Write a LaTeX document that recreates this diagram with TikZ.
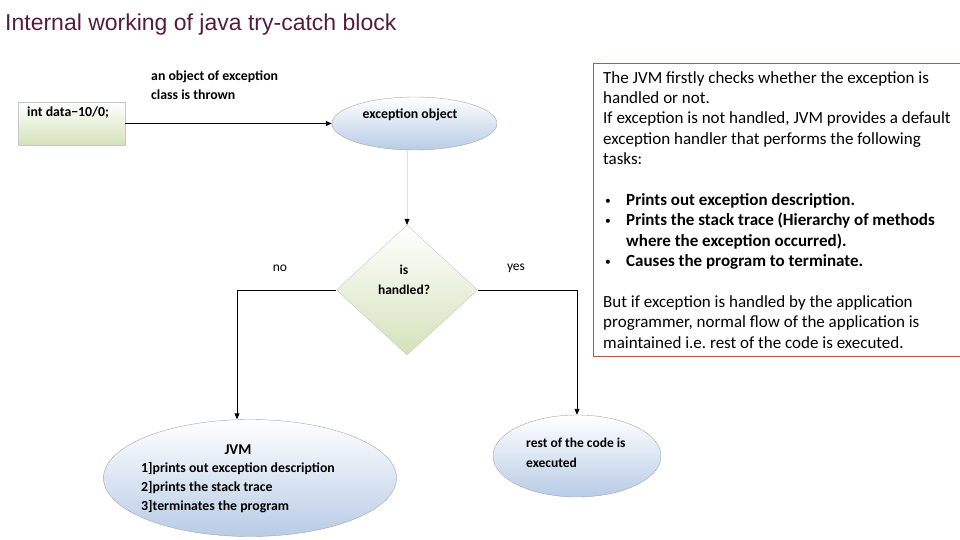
\documentclass[tikz,border=0pt]{standalone}
\usepackage{fontspec}
\setmainfont{Carlito}
\newfontfamily\titlefont{Liberation Sans}
\usetikzlibrary{shapes.geometric,arrows.meta}
\definecolor{titleplum}{RGB}{83,30,62}
\definecolor{noteborder}{RGB}{192,80,77}
\definecolor{leafgreen}{RGB}{212,226,186}
\definecolor{skyblue}{RGB}{184,204,230}
\newcommand{\notebullet}{\makebox[23pt][l]{\hspace{2pt}\raisebox{1.2pt}{\fontsize{11.5}{11.5}\selectfont\textbullet}}}

\begin{document}
\begin{tikzpicture}[x=1pt,y=-1pt,
  flowarrow/.style={line width=0.9pt, black, -{Triangle[length=6pt,width=5pt]}},
  fadedarrow/.style={line width=0.6pt, black!12, -{Triangle[length=6pt,width=5pt,color=black]}},
  greenbox/.style={draw=black!22, top color=white, bottom color=leafgreen, inner sep=0pt},
  blueoval/.style={ellipse, draw=black!35, top color=white, bottom color=skyblue, inner sep=0pt},
  smalltext/.style={inner sep=0pt, font=\bfseries\fontsize{13.8}{19}\selectfont},
]
\useasboundingbox (0,0) rectangle (960,540);
\node[anchor=base west, inner sep=0pt, text=titleplum] (title) at (5,31)
  {\titlefont\fontsize{23}{27}\selectfont Internal working of java try-catch block};

% the flow chart
\node[greenbox, minimum width=107pt, minimum height=43pt] (codebox) at (71.5,123.5) {};
\node[smalltext, anchor=west] (codetext) at (27,113) {int data−10/0;};
\node[blueoval, minimum width=165pt, minimum height=53pt] (thrown) at (414.5,123.5) {};
\node[smalltext] (throwntext) at (410,115) {exception object};
\node[diamond, greenbox, minimum width=141pt, minimum height=130pt] (test) at (407,290) {};
\node[smalltext, align=center, font=\bfseries\fontsize{13.5}{20}\selectfont] (testtext) at (404,280) {is\\handled?};
\node[blueoval, minimum width=293pt, minimum height=117pt] (jvm) at (250,478) {};
\node[smalltext] (jvmhead) at (238,450) {\fontsize{15}{18}\selectfont JVM};
\node[smalltext, anchor=north west, align=left] (jvmtext) at (141,462)
  {1]prints out exception description\\2]prints the stack trace\\3]terminates the program};
\node[blueoval, minimum width=168pt, minimum height=82pt] (rest) at (577,456) {};
\node[smalltext, anchor=north west, align=left, font=\bfseries\fontsize{13.5}{20}\selectfont] (resttext) at (526,438)
  {rest of the code is\\executed};

\node[smalltext, anchor=north west, align=left] (throwlabel) at (151,71)
  {an object of exception\\class is thrown};
\node[inner sep=0pt, font=\fontsize{13.5}{15}\selectfont] (nolabel) at (280,268) {no};
\node[inner sep=0pt, font=\fontsize{13.5}{15}\selectfont] (yeslabel) at (516,268) {yes};

\draw[flowarrow] (codebox.east) -- (thrown.west);
\draw[fadedarrow] (test.north |- thrown.south) -- (test.north);
\draw[flowarrow] (test.west) -| ([xshift=-13pt]jvm.north);
\draw[flowarrow] (test.east) -| (rest.north);

% the note on the right
\draw[noteborder, line width=0.8pt] (593,63) rectangle (975,356);
\node[anchor=north west, inner sep=0pt, align=left, font=\fontsize{17}{20.4}\selectfont] (note) at (603,71)
  {The JVM firstly checks whether the exception is\\
   handled or not.\\
   If exception is not handled, JVM provides a default\\
   exception handler that performs the following\\
   tasks:\\[20.4pt]
   \notebullet\textbf{Prints out exception description.}\\
   \notebullet\textbf{Prints the stack trace (Hierarchy of methods}\\
   \hspace*{23pt}\textbf{where the exception occurred).}\\
   \notebullet\textbf{Causes the program to terminate.}\\[20.4pt]
   But if exception is handled by the application\\
   programmer, normal flow of the application is\\
   maintained i.e.\ rest of the code is executed.};
\end{tikzpicture}
\end{document}
